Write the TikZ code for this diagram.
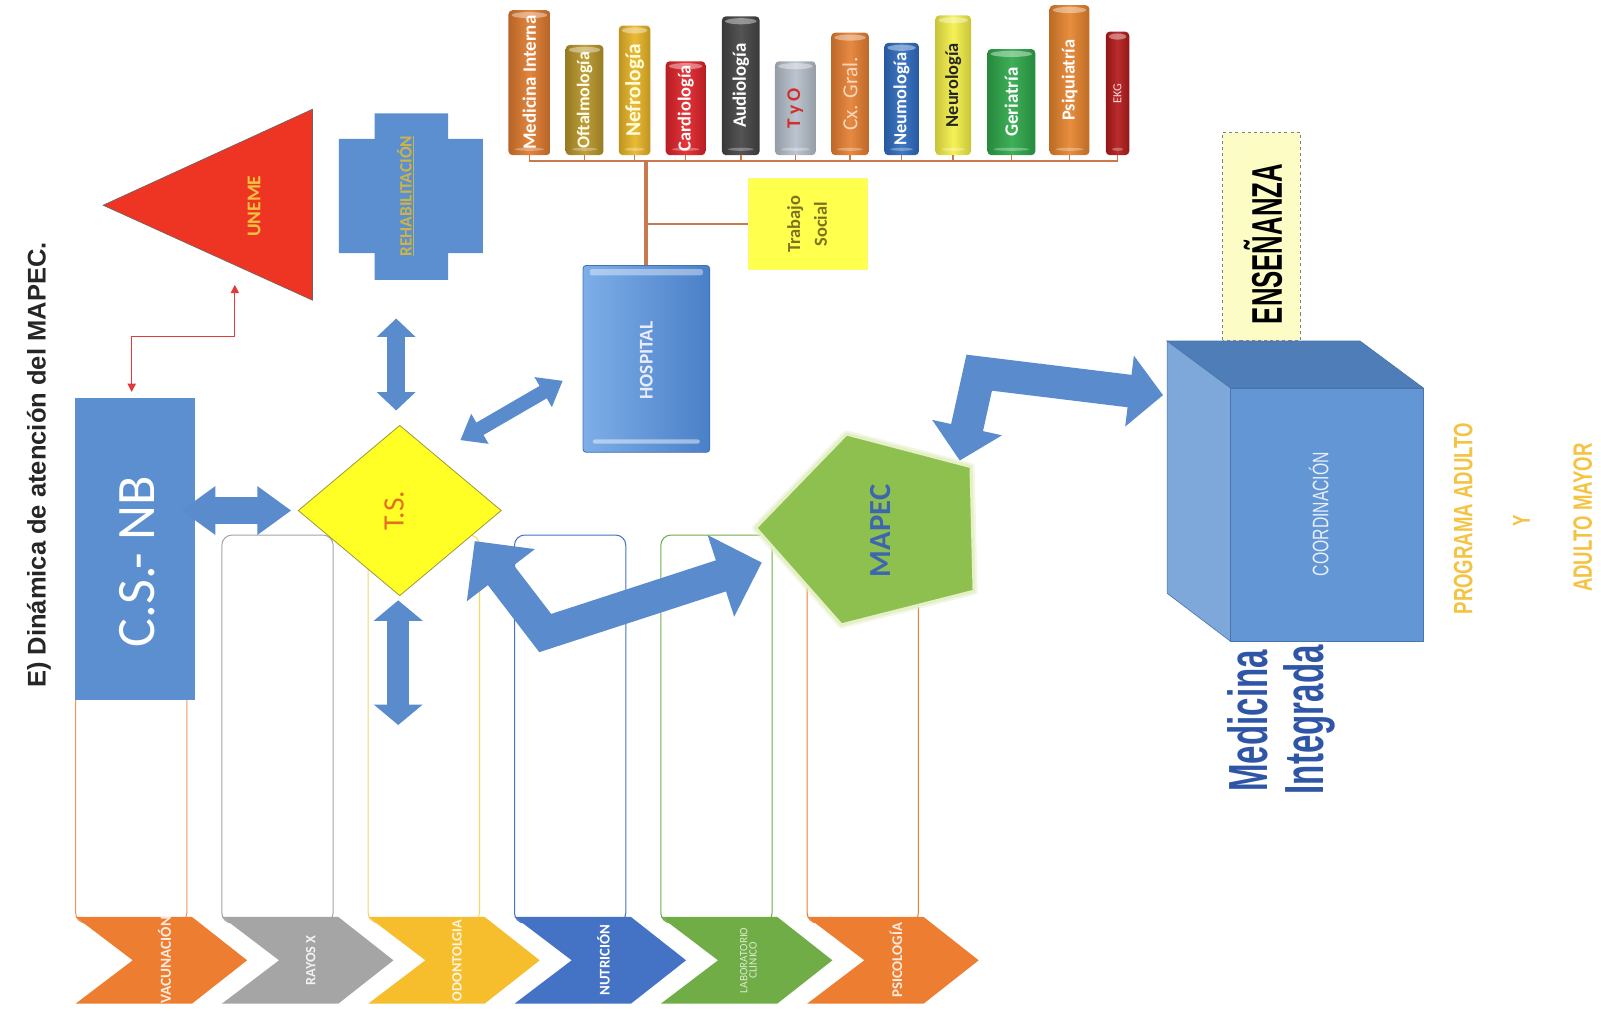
\documentclass[tikz,border=0pt]{standalone}
\usepackage{fontspec}
\usepackage{graphicx}
\setmainfont{Carlito}
\newfontfamily\arialf{Liberation Sans}
\newfontfamily\condA[FakeStretch=0.6]{Liberation Sans Bold}
\newfontfamily\condB[FakeStretch=0.7]{Liberation Sans}
\newfontfamily\condBB[FakeStretch=0.7]{Liberation Sans Bold}
\usetikzlibrary{calc,shapes.geometric,arrows.meta,patterns}
\newcommand\myfs[1]{\fontsize{#1}{#1}\selectfont}
\definecolor{boxblue}{HTML}{5B8FD0}
\definecolor{arrowblue}{HTML}{5A8CCD}
\definecolor{tsyellow}{HTML}{FFFF26}
\definecolor{tsline}{HTML}{9C9A3A}
\definecolor{tstext}{HTML}{E3701E}
\definecolor{unemered}{HTML}{EE3524}
\definecolor{gold}{HTML}{F3C23E}
\definecolor{rehabtext}{HTML}{CDB446}
\definecolor{trunk}{HTML}{C9784F}
\definecolor{mapecg}{HTML}{8EC04F}
\definecolor{mapecedge}{HTML}{E6F0C8}
\definecolor{mapectext}{HTML}{3D66B0}
\definecolor{cubefront}{HTML}{6396D4}
\definecolor{cubetop}{HTML}{4E7DB8}
\definecolor{cubeleft}{HTML}{7EA7DA}
\definecolor{cubeedge}{HTML}{4A74AC}
\definecolor{medblue}{HTML}{2F56A6}
\definecolor{redc}{HTML}{E03A3A}
\definecolor{chOrange}{HTML}{ED7D31}
\definecolor{chGray}{HTML}{A5A5A5}
\definecolor{chGold}{HTML}{F6BE2C}
\definecolor{chBlue}{HTML}{4472C4}
\definecolor{chGreen}{HTML}{70AD47}
\definecolor{colYellow}{HTML}{F0D870}
\definecolor{hospL}{HTML}{7DAEE8}
\definecolor{hospR}{HTML}{4A80C8}
\definecolor{hospEdge}{HTML}{4272B4}
\definecolor{tsocfill}{HTML}{FFFF4D}
\definecolor{tsoctext}{HTML}{7E7220}
\definecolor{cMed}{HTML}{DF7A2E}
\definecolor{cOft}{HTML}{B8962A}
\definecolor{cNef}{HTML}{E8B526}
\definecolor{cCar}{HTML}{E0242A}
\definecolor{cAud}{HTML}{454545}
\definecolor{cTyo}{HTML}{B6BFCB}
\definecolor{cTyoT}{HTML}{D02F2F}
\definecolor{cCx}{HTML}{E67F32}
\definecolor{cCxT}{HTML}{F8D8BC}
\definecolor{cNeum}{HTML}{2F6CC0}
\definecolor{cNeur}{HTML}{F4F048}
\definecolor{cGer}{HTML}{2EA84A}
\definecolor{cPsi}{HTML}{E6842E}
\definecolor{cEkg}{HTML}{B31B1B}
\definecolor{ensfill}{HTML}{FCFCDC}
\definecolor{progold}{HTML}{F5C342}
\newcommand\ahead[4]{\fill[arrowblue] (#1) -- ($(#1)!#3!(#2)!#4!90:(#2)$) -- ($(#1)!#3!(#2)!#4!-90:(#2)$) -- cycle;}
\newcommand\dblblock[6]{%
  \draw[arrowblue, line width=#3] ($(#1)!#6!(#2)$) -- ($(#2)!#6!(#1)$);
  \ahead{#1}{#2}{#5}{#4}\ahead{#2}{#1}{#5}{#4}}
\newcommand\bentblock[7]{%
  \draw[arrowblue, line width=#4, line join=miter] ($(#1)!#7!(#2)$) -- (#2) -- ($(#3)!#7!(#2)$);
  \ahead{#1}{#2}{#6}{#5}\ahead{#3}{#2}{#6}{#5}}
\newcommand\cyl[9]{%
  \node[cylbox, left color=#6!82!black, right color=#6!82!black, middle color=#6!92!white, minimum width=#4pt, minimum height=#5pt] (#1) at (#2,#3) {\rotatebox{90}{\color{#7}#8#9}};
  \fill[white, opacity=0.4] ([yshift=-5pt]#1.north) ellipse [x radius={(#4/2-3)*1pt}, y radius=3pt];
  \fill[white, opacity=0.3] ([yshift=6pt]#1.south) ellipse [x radius={(#4/2-6)*1pt}, y radius=1.5pt];
  \draw[trunk, line width=1.5pt] (#1.south) -- (#1.south |- busL);}
\newcommand\chev[5]{% x0, color, text color, text, name
  \fill[#2] (#1,898) -- (#1+114,898) -- (#1+168,940.5) -- (#1+114,983) -- (#1,983) -- (#1+56,940.5) -- cycle;
  \node[inner sep=0] (#5) at (#1+87,940.5) {\rotatebox{90}{\color{#3}#4}};}
\newcommand\colbox[3]{% x0, color, name
  \node[draw=#2, line width=1pt, rounded corners=10pt, minimum width=109pt, minimum height=380pt, inner sep=0] (#3) at (#1+54.5,714) {};}
\begin{document}
\begin{tikzpicture}[x=1pt,y=-1pt,
  cylbox/.style={rounded corners=4pt, inner sep=0}]
\useasboundingbox (0,0) rectangle (1568,992);
\fill[white] (0,0) rectangle (1568,992);

% title
\node[inner sep=0] (title) at (38,455.5) {\rotatebox{90}{\arialf\bfseries\myfs{25}\color{black!85}E) Dinámica de atención del MAPEC.}};

% columns
\colbox{74}{chOrange!80!white}{col1}
\colbox{217.3}{chGray}{col2}
\colbox{360.6}{colYellow}{col3}
\colbox{503.9}{chBlue}{col4}
\colbox{647.2}{chGreen}{col5}
\colbox{790.5}{chOrange}{col6}

% chevrons
\chev{74}{chOrange}{white!85!chOrange}{\bfseries\myfs{15}VACUNACIÓN}{chv1}
\chev{217.3}{chGray}{white!85!chGray}{\bfseries\myfs{14}RAYOS X}{chv2}
\chev{360.6}{chGold}{white!85!chGold}{\bfseries\myfs{14}ODONTOLGIA}{chv3}
\chev{503.9}{chBlue}{white}{\bfseries\myfs{14.5}NUTRICIÓN}{chv4}
\chev{647.2}{chGreen}{white!75!chGreen}{\myfs{11}\begin{tabular}{@{}c@{}}LABORATORIO\\[-2pt]CLINICO\end{tabular}}{chv5}
\chev{790.5}{chOrange}{white!85!chOrange}{\bfseries\myfs{14.5}PSICOLOGÍA}{chv6}

% C.S.- NB
\node[fill=boxblue, minimum width=118pt, minimum height=296pt, inner sep=0] (cs) at (132,538) {};
\node[inner sep=0] (cstxt) at (134,550) {\rotatebox{90}{\color{white}\myfs{53}C.S.- NB}};

% T.S. diamond
\node[diamond, fill=tsyellow, draw=tsline, line width=0.8pt, minimum width=199pt, minimum height=167pt, inner sep=0] (ts) at (391.5,500) {};
\node[inner sep=0] (tstxt) at (386,500) {\rotatebox{90}{\color{tstext}\myfs{29}T.S.}};

% UNEME
\filldraw[fill=unemered, draw=black!60, line width=0.6pt] (101,201) -- (306,107) -- (306,294) -- cycle;
\node[inner sep=0] (uneme) at (249,202) {\rotatebox{90}{\color{gold}\bfseries\myfs{19}UNEME}};
\coordinate (unemeB) at (230,279);
\draw[redc, line width=1.2pt, {Triangle[length=8pt,width=8pt]}-{Triangle[length=8pt,width=8pt]}] ([xshift=-3pt,yshift=6pt]cs.north) -- ++(0,-54) -| (unemeB);

% Rehabilitacion
\fill[boxblue] (367,111) -- (439,111) -- (439,136) -- (473,136) -- (473,248) -- (439,248) -- (439,274) -- (367,274) -- (367,248) -- (332,248) -- (332,136) -- (367,136) -- cycle;
\node[inner sep=0] (rehab) at (397,192) {\rotatebox{90}{\color{rehabtext}\bfseries\myfs{17}\underline{REHABILITACIÓN}}};

% straight block arrows
\coordinate (hA) at (178,500);
\coordinate (hB) at (285,500);
\dblblock{hA}{hB}{26pt}{24pt}{33pt}{31pt}
\coordinate (vA) at (388,312);
\coordinate (vB) at (388,402);
\dblblock{vA}{vB}{17pt}{19pt}{18pt}{16pt}
\coordinate (wA) at (390,588);
\coordinate (wB) at (390,710);
\dblblock{wA}{wB}{21pt}{24pt}{20pt}{18pt}
\coordinate (dA) at (451,431);
\coordinate (dB) at (551,373);
\dblblock{dA}{dB}{14pt}{17pt}{22pt}{20pt}

% Hospital
\node[draw=hospEdge, line width=0.8pt, rounded corners=3pt, minimum width=124pt, minimum height=183pt, inner sep=0, left color=hospL, right color=hospR] (hosp) at (633,351.5) {};
\fill[white, opacity=0.4, rounded corners=2pt] ([xshift=7pt,yshift=-4pt]hosp.north west) rectangle ([xshift=-7pt,yshift=-10pt]hosp.north east);
\fill[white, opacity=0.45, rounded corners=2pt] ([xshift=10pt,yshift=9pt]hosp.south west) rectangle ([xshift=-10pt,yshift=13pt]hosp.south east);
\node[inner sep=0] (hosptxt) at (633,353) {\rotatebox{90}{\color{white!92!blue}\bfseries\myfs{19}HOSPITAL}};

% bus and trunk
\coordinate (busL) at (518.5,158);
\coordinate (busR) at (1094.5,158);
\draw[trunk, line width=2pt] (busL) -- (busR);
\draw[trunk, line width=4pt] (hosp.north) -- (hosp.north |- busL);

% Trabajo social
\node[fill=tsocfill, draw=yellow!55!white, line width=1pt, minimum width=117pt, minimum height=89pt, inner sep=0] (tsoc) at (791.5,219.5) {\rotatebox{90}{\color{tsoctext}\bfseries\fontsize{18}{26}\selectfont\begin{tabular}{@{}c@{}}Trabajo\\Social\end{tabular}}};
\draw[trunk, line width=2pt] (tsoc.west) -- (tsoc.west -| hosp.north);

% cylinders
\cyl{cmed}{518.5}{81}{41}{142}{cMed}{white}{\bfseries\myfs{18.5}}{Medicina Interna}
\cyl{coft}{572.5}{98}{37}{108}{cOft}{white!92!yellow}{\bfseries\myfs{17.5}}{Oftalmología}
\cyl{cnef}{621.5}{88.5}{31}{127}{cNef}{white!85!yellow}{\bfseries\myfs{21}}{Nefrología}
\cyl{ccar}{671.5}{106}{39}{92}{cCar}{white}{\bfseries\myfs{18}}{Cardiología}
\cyl{caud}{725.5}{84}{37}{136}{cAud}{white}{\bfseries\myfs{18.5}}{Audiología}
\cyl{ctyo}{779}{106}{40}{92}{cTyo}{cTyoT}{\bfseries\myfs{19}}{T y O}
\cyl{ccx}{832.5}{92}{37}{120}{cCx}{cCxT}{\myfs{21}}{Cx. Gral.}
\cyl{cneum}{883}{97}{34}{110}{cNeum}{white}{\bfseries\myfs{18}}{Neumología}
\cyl{cneur}{933.5}{83.5}{35}{137}{cNeur}{black!85}{\bfseries\myfs{18}}{Neurología}
\cyl{cger}{990.5}{100}{47}{104}{cGer}{white}{\bfseries\myfs{18.5}}{Geriatría}
\cyl{cpsi}{1047.5}{78.5}{39}{147}{cPsi}{white}{\bfseries\myfs{18}}{Psiquiatría}
\cyl{cekg}{1094.5}{91.5}{23}{121}{cEkg}{white!85!red}{\myfs{12}}{EKG}

% MAPEC pentagon
\draw[mapecedge, line width=7pt, line join=round, opacity=0.5] (740,517) -- (829,425) -- (951,457) -- (954,579) -- (824,612) -- cycle;
\filldraw[fill=mapecg, draw=mapecedge, line width=3pt, line join=round] (740,517) -- (829,425) -- (951,457) -- (954,579) -- (824,612) -- cycle;
\node[inner sep=0] (mapec) at (862,520) {\rotatebox{90}{\color{mapectext}\bfseries\myfs{30}MAPEC}};

% bent arrows
\coordinate (eA) at (465,530);
\coordinate (eC) at (534,620);
\coordinate (eB) at (746,551);
\bentblock{eA}{eC}{eB}{32pt}{42pt}{42pt}{40pt}
\coordinate (fA) at (940,451);
\coordinate (fC) at (959,365);
\coordinate (fB) at (1139,387);
\bentblock{fA}{fC}{fB}{32pt}{35pt}{33pt}{31pt}

% cube
\filldraw[fill=cubetop, draw=cubeedge, line width=0.6pt] (1143,334) -- (1332,334) -- (1394,380) -- (1205,380) -- cycle;
\filldraw[fill=cubeleft, draw=cubeedge, line width=0.6pt] (1143,334) -- (1205,380) -- (1205,628) -- (1143,581) -- cycle;
\node[fill=cubefront, draw=cubeedge, line width=0.6pt, minimum width=189pt, minimum height=248pt, inner sep=0] (coord) at (1299.5,504) {};
\node[inner sep=0] (coordtxt) at (1291.5,503.5) {\rotatebox{90}{\condB\myfs{22}\color{white!85!cubefront}COORDINACIÓN}};

% Enseñanza
\node[fill=ensfill, minimum width=76pt, minimum height=203pt, inner sep=0] (ens) at (1235.5,231.5) {};
\fill[pattern=north east lines, pattern color=yellow!45] (ens.south west) rectangle (ens.north east);
\draw[gray, dashed, line width=0.7pt] (ens.south west) rectangle (ens.north east);
\node[inner sep=0] (enstxt) at (1237,239) {\rotatebox{90}{\condA\myfs{42}\color{black}ENSEÑANZA}};

% Medicina Integrada
\node[inner sep=0] (med) at (1222,706) {\rotatebox{90}{\condA\myfs{54}\color{medblue}Medicina}};
\node[inner sep=0] (integ) at (1282,705) {\rotatebox{90}{\condA\myfs{54}\color{medblue}Integrada}};

% Programa
\node[inner sep=0] (prog) at (1433,508) {\rotatebox{90}{\condBB\myfs{26}\color{progold}PROGRAMA ADULTO}};
\node[inner sep=0] (yy) at (1490,510) {\rotatebox{90}{\condBB\myfs{24}\color{progold}Y}};
\node[inner sep=0] (adm) at (1550,507) {\rotatebox{90}{\condBB\myfs{26}\color{progold}ADULTO MAYOR}};
\end{tikzpicture}
\end{document}
